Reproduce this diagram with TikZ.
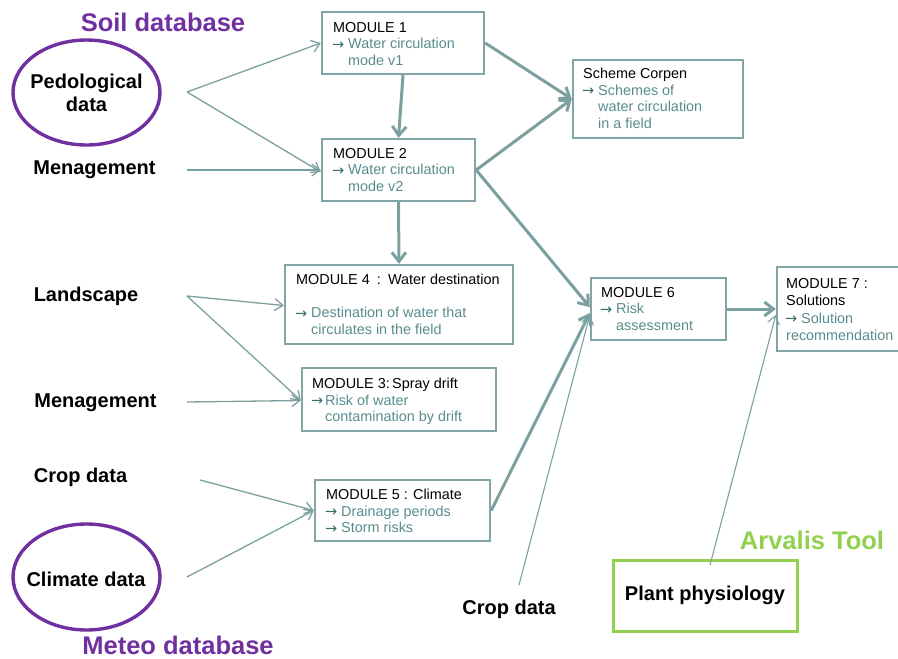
\documentclass[tikz,border=0pt]{standalone}
\usepackage{fontspec}
\setmainfont{Liberation Sans}
\newfontfamily\arrowfont{DejaVu Sans}
\usetikzlibrary{arrows.meta,shapes.geometric}

\definecolor{frame}{RGB}{132,165,165}
\definecolor{flow}{RGB}{124,160,160}
\definecolor{tealtext}{RGB}{88,140,140}
\definecolor{tealarrow}{RGB}{55,110,110}
\definecolor{dbpurple}{RGB}{112,48,160}
\definecolor{toolgreen}{RGB}{146,208,80}

\newcommand\arrowglyph{\textcolor{tealarrow}{\arrowfont\fontsize{14.5}{14.5}\selectfont\raisebox{-0.3pt}{→}}}
\newcommand\arw{\makebox[15pt][l]{\hspace*{-1pt}\arrowglyph}}
\newcommand\ind{\hspace*{15pt}}
\newcommand\sub[1]{\textcolor{tealtext}{#1}}

\tikzset{
  x=1pt, y=-1pt,
  modbox/.style={draw=frame, line width=2.4pt, rectangle, inner sep=0pt},
  modtext/.style={anchor=north west, inner sep=0pt, align=left,
    font=\fontsize{14.4}{16.6}\selectfont},
  label/.style={inner sep=0pt, align=center,
    font=\fontsize{20}{23}\selectfont\bfseries},
  dbtitle/.style={inner sep=0pt, font=\fontsize{25.5}{28}\selectfont\bfseries},
  source/.style={draw=dbpurple, line width=3.4pt, ellipse, inner sep=0pt,
    minimum width=147pt, minimum height=105pt},
  thin/.style={draw=flow, line width=1.3pt,
    -{Straight Barb[length=8pt,width=12pt]}},
  thick/.style={draw=flow, line width=3pt,
    -{Straight Barb[length=9pt,width=14pt]}},
}

\begin{document}
\begin{tikzpicture}
\useasboundingbox (0,0) rectangle (898,659);

% database titles
\node[dbtitle, text=dbpurple] (soildb) at (163,22) {Soil database};
\node[dbtitle, text=dbpurple] (meteodb) at (178,645) {Meteo database};
\node[dbtitle, text=toolgreen] (arvalis) at (812,540) {Arvalis Tool};

% data sources
\node[source] (pedo) at (86.5,92.5) {};
\node[label] (pedot) at (pedo) {Pedological\\data};
\node[source, minimum height=106pt] (clim) at (86.5,577) {};
\node[label] (climt) at (86,579) {Climate data};
\node[label] (men1) at (94.5,170) {Menagement};
\node[label] (land) at (86,296) {Landscape};
\node[label] (men2) at (95.5,403) {Menagement};
\node[label] (crop1) at (80.5,477) {Crop data};
\node[label] (crop2) at (509,609) {Crop data};
\node[draw=toolgreen, line width=3pt, minimum width=184pt, minimum height=71pt,
      label] (plant) at (705,595.5) {Plant physiology};

% connector start points
\coordinate (pedoOut) at (187,92);
\coordinate (men1Out) at (187,170);
\coordinate (landOut) at (187,296);
\coordinate (men2Out) at (187,402);
\coordinate (crop1Out) at (200,480);
\coordinate (climOut) at (187,577);
\coordinate (crop2Out) at (519,585);
\coordinate (plantOut) at (710,565);

% module boxes
\node[modbox, minimum width=162pt, minimum height=62pt] (m1) at (403,43) {};
\node[modbox, minimum width=153pt, minimum height=62pt] (m2) at (398.5,170) {};
\node[modbox, minimum width=170pt, minimum height=78pt] (corpen) at (658,99) {};
\node[modbox, minimum width=228pt, minimum height=79pt] (m4) at (399,304.5) {};
\node[modbox, minimum width=194pt, minimum height=63pt] (m3) at (399,399.5) {};
\node[modbox, minimum width=175pt, minimum height=61pt] (m5) at (402.5,510.5) {};
\node[modbox, minimum width=135pt, minimum height=62pt] (m6) at (658.5,309) {};
\node[modbox, minimum width=122pt, minimum height=84pt] (m7) at (838,309) {};

% module texts
\node[modtext] (m1t) at (333,22) {MODULE 1\\\sub{\arw Water circulation}\\\sub{\ind mode v1}};
\node[modtext] (m2t) at (333,148) {MODULE 2\\\sub{\arw Water circulation}\\\sub{\ind mode v2}};
\node[modtext] (corpent) at (583,68) {Scheme Corpen\\\sub{\arw Schemes of}\\\sub{\ind water circulation}\\\sub{\ind in a field}};
\node[modtext] (m4t) at (296,274) {MODULE 4\hspace{3pt} : \hspace{2pt}Water destination\\[16.6pt]\sub{\arw Destination of water that}\\\sub{\ind circulates in the field}};
\node[modtext] (m3t) at (312,378) {MODULE 3:\,Spray drift\\\sub{\makebox[13pt][l]{\hspace*{-1pt}\arrowglyph}Risk of water}\\\sub{\hspace*{13pt}contamination by drift}};
\node[modtext] (m5t) at (326,489) {MODULE 5 : Climate\\\sub{\arw Drainage periods}\\\sub{\arw Storm risks}};
\node[modtext] (m6t) at (601,287) {MODULE 6\\\sub{\arw Risk}\\\sub{\ind assessment}};
\node[modtext, font=\fontsize{14.4}{17.4}\selectfont] (m7t) at (786,278) {MODULE 7 :\\Solutions\\\sub{\arw Solution}\\\sub{recommendation}};

% inputs
\draw[thin] (pedoOut) -- (m1.west);
\draw[thin] (pedoOut) -- ([yshift=-2pt]m2.west);
\draw[thin] (men1Out) -- (m2.west);
\draw[thin] (landOut) -- ([yshift=-1pt]m4.west);
\draw[thin] (landOut) -- ([yshift=-1pt]m3.west);
\draw[thin] (men2Out) -- ([yshift=-1pt]m3.west);
\draw[thin] (crop1Out) -- (m5.west);
\draw[thin] (climOut) -- (m5.west);
\draw[thin, line width=1.1pt] (crop2Out) -- ([yshift=-6pt]m6.west);
\draw[thin, line width=1.1pt] (plantOut) -- ([yshift=-6pt]m7.west);

% module flow
\draw[thick] (m1.south) -- (m2.north);
\draw[thick] (m1.east) -- (corpen.west);
\draw[thick] (m2.east) -- (corpen.west);
\draw[thick] (m2.east) -- ([yshift=2pt]m6.west);
\draw[thick] (m2.south) -- (m4.north);
\draw[thick] (m5.east) -- ([yshift=-4pt]m6.west);
\draw[thick] (m6.east) -- (m7.west);
\end{tikzpicture}
\end{document}
